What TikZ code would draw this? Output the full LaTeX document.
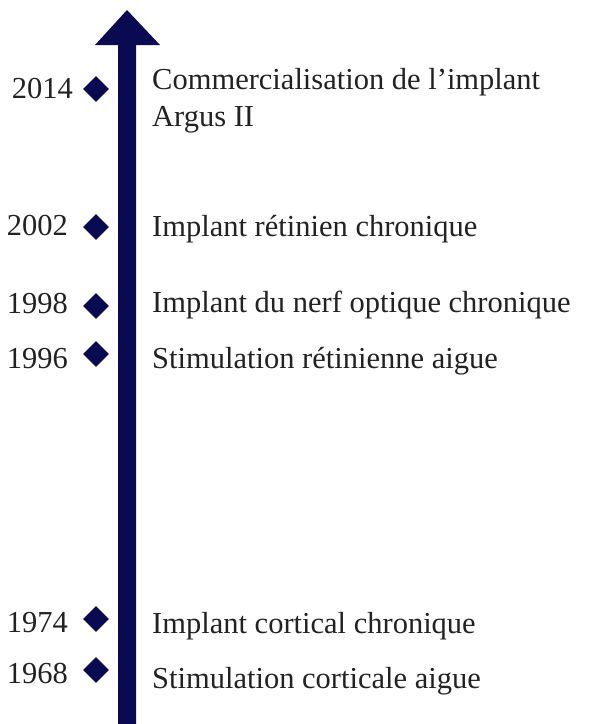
\documentclass[tikz,border=0pt]{standalone}
\usepackage{fontspec}
\setmainfont{Liberation Serif}
\usetikzlibrary{shapes.geometric}
\definecolor{navy}{RGB}{10,10,82}
\definecolor{txt}{RGB}{34,34,34}
\begin{document}
\begin{tikzpicture}[x=1pt,y=-1pt,
  mark diamond/.style={diamond,fill=navy,inner sep=0pt,minimum width=26pt,minimum height=26pt},
  yeartext/.style={anchor=base east,inner sep=0pt,text=txt,font=\fontsize{30.5}{37}\selectfont},
  eventtext/.style={anchor=base west,inner sep=0pt,text=txt,align=left,font=\fontsize{30.5}{37}\selectfont}]
\useasboundingbox (0,0) rectangle (589,724);
% arrow
\fill[navy] (118,724) -- (118,45) -- (95,45) -- (127,10) -- (160,45) -- (136,45) -- (136,724) -- cycle;
% diamonds
\node[mark diamond] (d2014) at (96,89) {};
\node[mark diamond] (d2002) at (96,227) {};
\node[mark diamond] (d1998) at (96,306) {};
\node[mark diamond] (d1996) at (96,354) {};
\node[mark diamond] (d1974) at (96,619) {};
\node[mark diamond] (d1968) at (96,670) {};
% years
\node[yeartext] (y2014) at (73,98) {2014};
\node[yeartext] (y2002) at (68,235) {2002};
\node[yeartext] (y1998) at (68,313) {1998};
\node[yeartext] (y1996) at (68,368) {1996};
\node[yeartext] (y1974) at (68,632) {1974};
\node[yeartext] (y1968) at (68,683) {1968};
% events
\node[eventtext] (e2014) at (152,126) {Commercialisation de l’implant\\Argus II};
\node[eventtext] (e2002) at (152,236) {Implant rétinien chronique};
\node[eventtext] (e1998) at (152,312) {Implant du nerf optique chronique};
\node[eventtext] (e1996) at (152,368) {Stimulation rétinienne aigue};
\node[eventtext] (e1974) at (152,633) {Implant cortical chronique};
\node[eventtext] (e1968) at (152,688) {Stimulation corticale aigue};
\end{tikzpicture}
\end{document}
